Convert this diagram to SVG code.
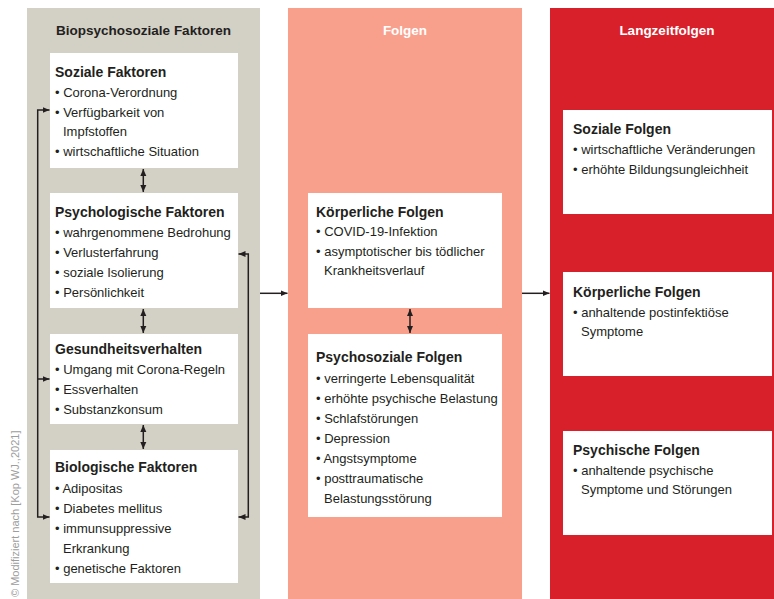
<svg xmlns="http://www.w3.org/2000/svg" width="774" height="599" viewBox="0 0 774 599">
<defs>
<marker id="ah" markerUnits="userSpaceOnUse" markerWidth="8" markerHeight="7" refX="7" refY="3" orient="auto-start-reverse" viewBox="0 0 8 6">
<path d="M0,0 L7,3 L0,6 z" fill="#231f20"/>
</marker>
<style>
text{font-family:"Liberation Sans",Arial,sans-serif;fill:#231f20}
.ttl{font-size:13.5px;font-weight:bold;text-anchor:middle}
.w{fill:#ffffff}
.h{font-size:14px;font-weight:bold}
.i{font-size:13px}
.box{fill:#ffffff}
.c{fill:none;stroke:#231f20;stroke-width:1.5}
.src{font-size:11px;fill:#9d9d9d}
</style>
</defs>
<rect width="774" height="599" fill="#ffffff"/>
<g id="panels">
<rect x="27" y="8" width="233" height="591" fill="#d3d0c5"/>
<rect x="288" y="8" width="234" height="591" fill="#f9a08d"/>
<rect x="550" y="8" width="224" height="591" fill="#d8202b"/>
<text class="ttl" x="143.5" y="35">Biopsychosoziale Faktoren</text>
<text class="ttl w" x="405" y="35">Folgen</text>
<text class="ttl w" x="667" y="35">Langzeitfolgen</text>
</g>
<g id="soziale-faktoren">
<rect class="box" x="50" y="53" width="188" height="115"/>
<text class="h" x="55" y="77">Soziale Faktoren</text>
<text class="i" x="55" y="96.5">• Corona-Verordnung</text>
<text class="i" x="55" y="116.5">• Verfügbarkeit von</text>
<text class="i" x="63" y="135.5">Impfstoffen</text>
<text class="i" x="55" y="155.5">• wirtschaftliche Situation</text>
</g>
<g id="psychologische-faktoren">
<rect class="box" x="50" y="193" width="188" height="115"/>
<text class="h" x="55" y="216.5">Psychologische Faktoren</text>
<text class="i" x="55" y="236.5">• wahrgenommene Bedrohung</text>
<text class="i" x="55" y="256.5">• Verlusterfahrung</text>
<text class="i" x="55" y="276.5">• soziale Isolierung</text>
<text class="i" x="55" y="296.5">• Persönlichkeit</text>
</g>
<g id="gesundheitsverhalten">
<rect class="box" x="50" y="334" width="188" height="90"/>
<text class="h" x="55" y="354">Gesundheitsverhalten</text>
<text class="i" x="55" y="374">• Umgang mit Corona-Regeln</text>
<text class="i" x="55" y="394">• Essverhalten</text>
<text class="i" x="55" y="414">• Substanzkonsum</text>
</g>
<g id="biologische-faktoren">
<rect class="box" x="50" y="450" width="188" height="133"/>
<text class="h" x="55" y="472">Biologische Faktoren</text>
<text class="i" x="55" y="493">• Adipositas</text>
<text class="i" x="55" y="513">• Diabetes mellitus</text>
<text class="i" x="55" y="533">• immunsuppressive</text>
<text class="i" x="63" y="553">Erkrankung</text>
<text class="i" x="55" y="573">• genetische Faktoren</text>
</g>
<g id="koerperliche-folgen">
<rect class="box" x="308" y="193" width="194" height="115"/>
<text class="h" x="316" y="216.5">Körperliche Folgen</text>
<text class="i" x="316" y="235.5">• COVID-19-Infektion</text>
<text class="i" x="316" y="255.5">• asymptotischer bis tödlicher</text>
<text class="i" x="324" y="275">Krankheitsverlauf</text>
</g>
<g id="psychosoziale-folgen">
<rect class="box" x="308" y="334" width="194" height="183"/>
<text class="h" x="316" y="361.5">Psychosoziale Folgen</text>
<text class="i" x="316" y="382.5">• verringerte Lebensqualität</text>
<text class="i" x="316" y="402.5">• erhöhte psychische Belastung</text>
<text class="i" x="316" y="422.5">• Schlafstörungen</text>
<text class="i" x="316" y="442.5">• Depression</text>
<text class="i" x="316" y="462.5">• Angstsymptome</text>
<text class="i" x="316" y="483">• posttraumatische</text>
<text class="i" x="324" y="502.5">Belastungsstörung</text>
</g>
<g id="soziale-folgen">
<rect class="box" x="563" y="110" width="209" height="104"/>
<text class="h" x="573" y="134">Soziale Folgen</text>
<text class="i" x="573" y="154">• wirtschaftliche Veränderungen</text>
<text class="i" x="573" y="174">• erhöhte Bildungsungleichheit</text>
</g>
<g id="koerperliche-langzeitfolgen">
<rect class="box" x="563" y="272" width="209" height="104"/>
<text class="h" x="573" y="296.5">Körperliche Folgen</text>
<text class="i" x="573" y="316.5">• anhaltende postinfektiöse</text>
<text class="i" x="581" y="335.5">Symptome</text>
</g>
<g id="psychische-folgen">
<rect class="box" x="563" y="431" width="209" height="104"/>
<text class="h" x="573" y="455">Psychische Folgen</text>
<text class="i" x="573" y="475">• anhaltende psychische</text>
<text class="i" x="581" y="494">Symptome und Störungen</text>
</g>
<g id="connectors">
<path class="c" d="M143.3,169 V192" marker-start="url(#ah)" marker-end="url(#ah)"/>
<path class="c" d="M143.3,309 V333" marker-start="url(#ah)" marker-end="url(#ah)"/>
<path class="c" d="M143.3,425 V449" marker-start="url(#ah)" marker-end="url(#ah)"/>
<path class="c" d="M410,309 V333" marker-start="url(#ah)" marker-end="url(#ah)"/>
<path class="c" d="M49.5,110 H37.7 V517 H49.5" marker-start="url(#ah)" marker-end="url(#ah)"/>
<path class="c" d="M37.7,379 H49.5" marker-end="url(#ah)"/>
<path class="c" d="M238.5,254 H248.3 V517 H238.5" marker-start="url(#ah)" marker-end="url(#ah)"/>
<path class="c" d="M260,293.3 H287.5" marker-end="url(#ah)"/>
<path class="c" d="M522,293.3 H549.5" marker-end="url(#ah)"/>
</g>
<text class="src" transform="translate(19,597) rotate(-90)">© Modifiziert nach  [Kop WJ.,2021]</text>
</svg>
